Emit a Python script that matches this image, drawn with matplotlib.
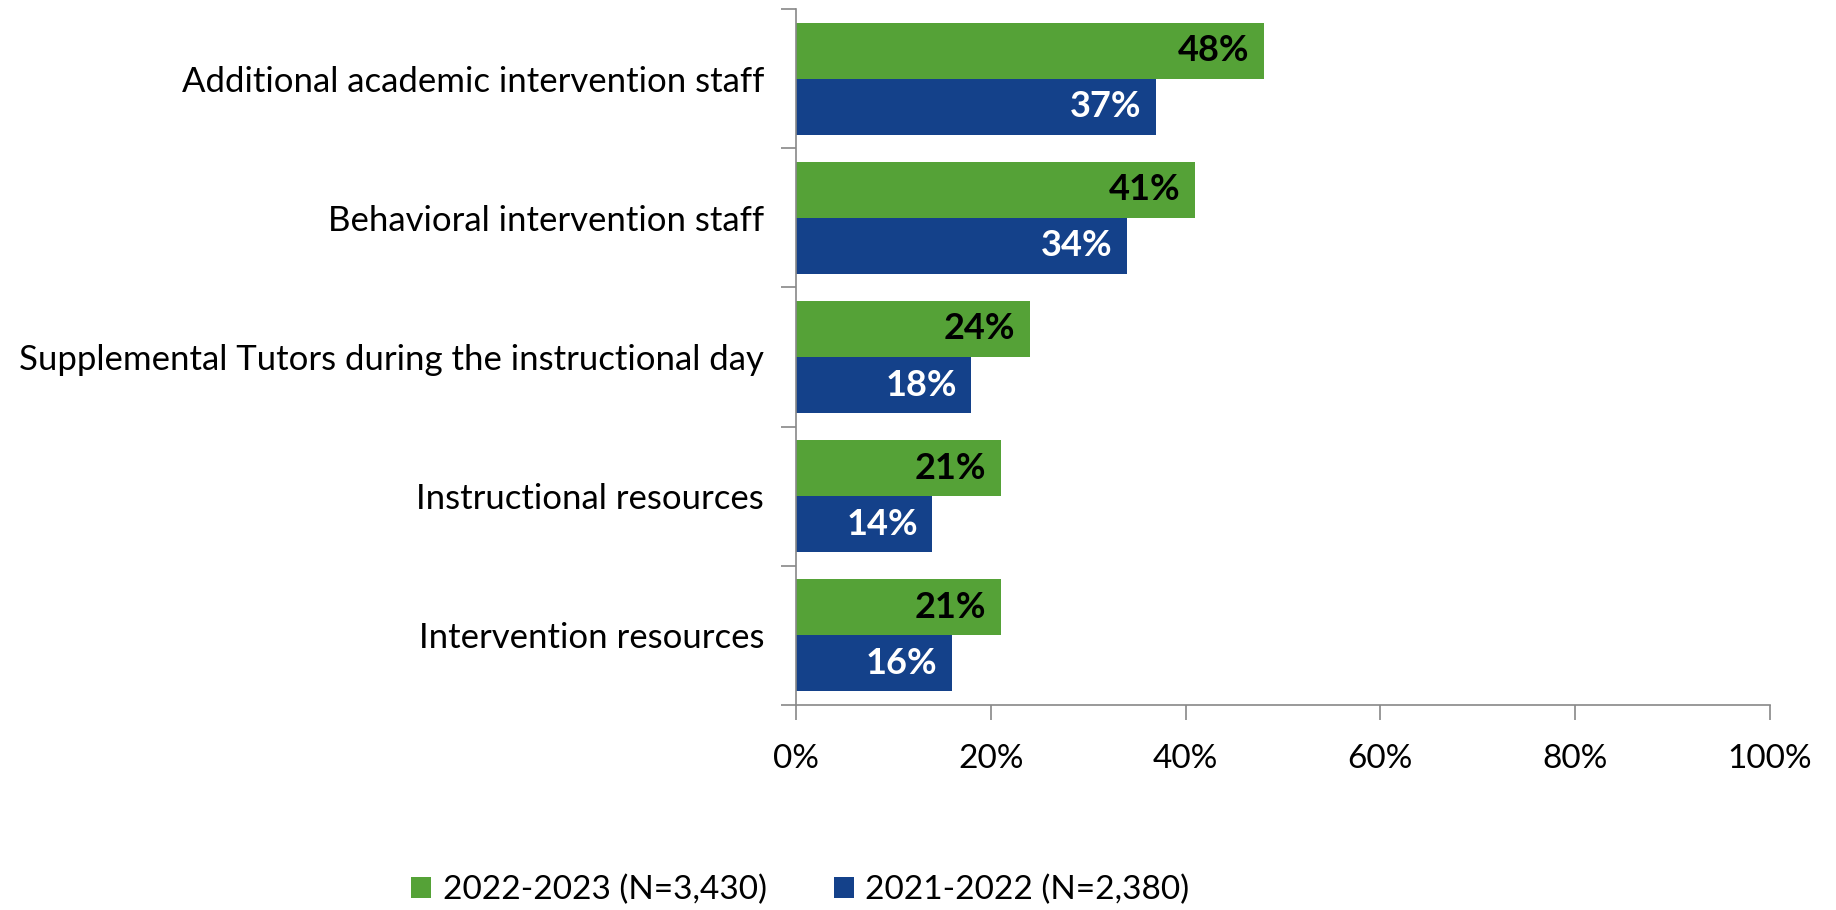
import numpy as np
import matplotlib
matplotlib.use("Agg")
import matplotlib.pyplot as plt
from matplotlib.ticker import FixedLocator, PercentFormatter

plt.rcParams["font.family"] = ["Lato", "DejaVu Sans"]

# Data
categories = [
    "Additional academic intervention staff",
    "Behavioral intervention staff",
    "Supplemental Tutors during the instructional day",
    "Instructional resources",
    "Intervention resources",
]
values_2023 = [48, 41, 24, 21, 21]
values_2022 = [37, 34, 18, 14, 16]
label_2023 = "2022-2023 (N=3,430)"
label_2022 = "2021-2022 (N=2,380)"
green = "#55A237"
blue = "#14418A"

fig = plt.figure(figsize=(18.36, 9.10), dpi=100)
ax = fig.add_axes([0.4336, 0.2253, 0.5304, 0.7647])

y = np.arange(len(categories))[::-1]
h = 0.403
ax.barh(y + h / 2, values_2023, height=h, color=green, label=label_2023)
ax.barh(y - h / 2, values_2022, height=h, color=blue, label=label_2022)

# value labels inside the bar ends
for yi, v in zip(y, values_2023):
    ax.text(v - 1.5, yi + h / 2, f"{v}%", ha="right", va="center",
            color="black", fontsize=26, fontweight="bold")
for yi, v in zip(y, values_2022):
    ax.text(v - 1.5, yi - h / 2, f"{v}%", ha="right", va="center",
            color="white", fontsize=26, fontweight="bold")

ax.set_xlim(0, 100)
ax.set_ylim(-0.5, len(categories) - 0.5)
ax.set_xticks(np.arange(0, 101, 20))
ax.xaxis.set_major_formatter(PercentFormatter(decimals=0))
ax.tick_params(axis="x", direction="out", length=11, width=1.2, color="#888888",
               labelsize=24, pad=17)

ax.set_yticks(y)
ax.set_yticklabels(categories)
ax.tick_params(axis="y", which="major", length=0, labelsize=25, pad=23)
ax.yaxis.set_minor_locator(FixedLocator(np.arange(-0.5, len(categories), 1.0)))
ax.tick_params(axis="y", which="minor", direction="out", length=11, width=1.2,
               color="#888888")

for s in ["top", "right"]:
    ax.spines[s].set_visible(False)
for s in ["left", "bottom"]:
    ax.spines[s].set_color("#888888")
    ax.spines[s].set_linewidth(1.2)

fig.legend(loc="center", bbox_to_anchor=(0.436, 0.022), ncol=2, frameon=False,
           fontsize=24, handlelength=0.6, handleheight=0.6, handletextpad=0.35,
           columnspacing=2.0)

fig.savefig("out.png", dpi=100)
